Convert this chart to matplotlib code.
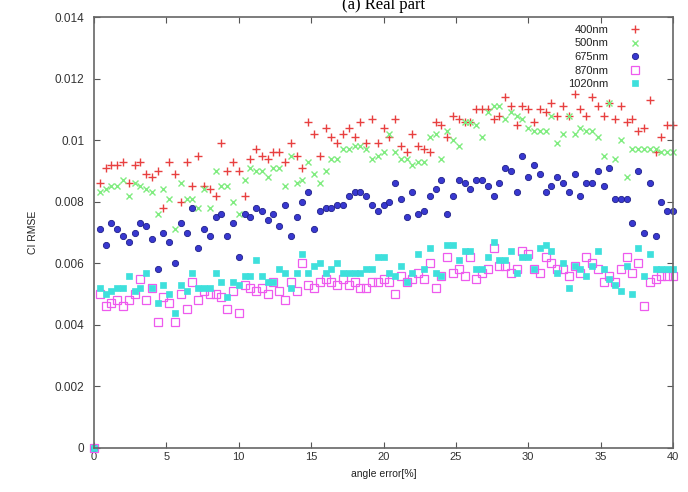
import numpy as np
import matplotlib
matplotlib.use('Agg')
import matplotlib.pyplot as plt

# ----------
# Data: CI RMSE vs angle error, one value every 0.4 % (plus the origin)

step = 0.4
n = 100

rmse_400 = [.0086, .0091, .0092, .0092, .0093, .0086, .0092, .0093, .0089, .0088,
            .0090, .0078, .0093, .0089, .0080, .0093, .0085, .0095, .0085, .0084,
            .0082, .0099, .0090, .0093, .0090, .0082, .0094, .0097, .0095, .0094,
            .0096, .0096, .0093, .0099, .0095, .0091, .0106, .0102, .0095, .0104,
            .0101, .0099, .0102, .0104, .0101, .0106, .0099, .0107, .0099, .0104,
            .0101, .0107, .0098, .0096, .0102, .0098, .0097, .0096, .0106, .0105,
            .0101, .0108, .0107, .0106, .0106, .0110, .0110, .0110, .0107, .0108,
            .0114, .0111, .0105, .0111, .0110, .0106, .0110, .0109, .0112, .0108,
            .0111, .0108, .0115, .0110, .0108, .0114, .0111, .0108, .0112, .0107,
            .0111, .0106, .0107, .0103, .0104, .0113, .0096, .0101, .0105, .0105]

rmse_500 = [.0083, .0084, .0085, .0085, .0087, .0082, .0086, .0085, .0084, .0083,
            .0076, .0084, .0081, .0071, .0086, .0081, .0081, .0078, .0084, .0078,
            .0090, .0085, .0085, .0080, .0076, .0087, .0091, .0090, .0090, .0088,
            .0091, .0091, .0085, .0095, .0086, .0087, .0093, .0089, .0086, .0090,
            .0094, .0094, .0097, .0097, .0098, .0098, .0097, .0094, .0095, .0096,
            .0102, .0096, .0094, .0094, .0092, .0093, .0093, .0101, .0102, .0094,
            .0103, .0100, .0098, .0106, .0106, .0105, .0101, .0109, .0111, .0111,
            .0107, .0109, .0108, .0107, .0104, .0103, .0103, .0103, .0108, .0099,
            .0102, .0108, .0102, .0104, .0103, .0103, .0101, .0095, .0112, .0094,
            .0100, .0088, .0097, .0097, .0097, .0097, .0097, .0096, .0096, .0096]

rmse_675 = [.0071, .0066, .0073, .0071, .0069, .0067, .0070, .0073, .0072, .0068,
            .0058, .0070, .0067, .0060, .0073, .0070, .0078, .0065, .0071, .0069,
            .0075, .0076, .0069, .0073, .0062, .0076, .0075, .0078, .0077, .0074,
            .0076, .0072, .0079, .0069, .0075, .0080, .0083, .0071, .0077, .0078,
            .0078, .0079, .0079, .0082, .0083, .0083, .0082, .0079, .0077, .0079,
            .0080, .0086, .0081, .0075, .0083, .0076, .0077, .0082, .0084, .0087,
            .0076, .0082, .0087, .0086, .0084, .0087, .0087, .0085, .0082, .0086,
            .0091, .0090, .0083, .0095, .0088, .0092, .0089, .0083, .0085, .0088,
            .0086, .0083, .0089, .0082, .0086, .0086, .0090, .0085, .0091, .0081,
            .0081, .0081, .0073, .0090, .0070, .0086, .0069, .0080, .0077, .0077]

rmse_870 = [.0050, .0046, .0047, .0048, .0046, .0048, .0050, .0055, .0048, .0052,
            .0041, .0049, .0047, .0041, .0050, .0045, .0054, .0048, .0051, .0050,
            .0050, .0049, .0045, .0051, .0044, .0053, .0052, .0051, .0052, .0050,
            .0054, .0051, .0048, .0054, .0051, .0060, .0053, .0052, .0054, .0055,
            .0054, .0053, .0055, .0053, .0054, .0052, .0052, .0054, .0054, .0055,
            .0054, .0050, .0056, .0054, .0055, .0057, .0055, .0060, .0052, .0056,
            .0062, .0057, .0058, .0056, .0062, .0055, .0057, .0058, .0065, .0059,
            .0059, .0057, .0058, .0064, .0063, .0058, .0057, .0062, .0060, .0058,
            .0058, .0056, .0059, .0057, .0062, .0060, .0058, .0054, .0056, .0054,
            .0058, .0062, .0057, .0060, .0046, .0054, .0055, .0056, .0056, .0056]

rmse_1020 = [.0052, .0050, .0051, .0052, .0052, .0056, .0051, .0052, .0057, .0052,
             .0047, .0053, .0050, .0044, .0053, .0051, .0057, .0052, .0052, .0052,
             .0057, .0054, .0049, .0054, .0053, .0056, .0056, .0061, .0056, .0054,
             .0054, .0058, .0057, .0052, .0057, .0063, .0057, .0059, .0060, .0057,
             .0058, .0060, .0057, .0057, .0057, .0057, .0058, .0058, .0062, .0062,
             .0057, .0056, .0059, .0054, .0057, .0063, .0058, .0065, .0057, .0056,
             .0066, .0066, .0061, .0064, .0064, .0058, .0058, .0062, .0067, .0061,
             .0061, .0064, .0057, .0062, .0062, .0058, .0065, .0066, .0064, .0057,
             .0060, .0052, .0059, .0058, .0056, .0059, .0064, .0058, .0055, .0053,
             .0051, .0059, .0050, .0065, .0056, .0063, .0058, .0058, .0058, .0058]

labels = ['400nm', '500nm', '675nm', '870nm', '1020nm']
xticks = [0, 5, 10, 15, 20, 25, 30, 35, 40]
yticks = [0, 0.002, 0.004, 0.006, 0.008, 0.01, 0.012, 0.014]
ytick_labels = ['0', '0.002', '0.004', '0.006', '0.008', '0.01', '0.012', '0.014']

# ----------

x = np.concatenate([[0.0], step * np.arange(1, n + 1)])
series = [rmse_400, rmse_500, rmse_675, rmse_870, rmse_1020]

# gnuplot-ish point styles
styles = [
    dict(marker='+', color='#e84040', ms=6, mew=1.0, ls='none'),
    dict(marker='x', color='#80ec80', ms=4.5, mew=1.0, ls='none'),
    dict(marker='o', color='#3838d0', mec='#20208a', ms=4.5, mew=0.6, ls='none'),
    dict(marker='s', color='#ee5aee', mfc='none', ms=5.5, mew=0.9, ls='none'),
    dict(marker='s', color='#3ee0dc', ms=4.5, mew=0.5, ls='none'),
]

matplotlib.rc('font', family='Liberation Sans', size=8.5)
matplotlib.rc('xtick', direction='in')
matplotlib.rc('ytick', direction='in')

fig = plt.figure(figsize=(6.88, 4.92), dpi=100, facecolor='white')
ax = fig.add_axes([94/688, 1 - 448/492, 579/688, 431/492])

for vals, lab, st in zip(series, labels, styles):
    ax.plot(x, np.concatenate([[0.0], vals]), label=lab, clip_on=False, **st)

ax.set_xlim(0, 40)
ax.set_ylim(0, 0.014)
ax.set_xticks(xticks)
ax.set_xticklabels([str(t) for t in xticks])
ax.set_yticks(yticks)
ax.set_yticklabels(ytick_labels)
ax.tick_params(top=True, right=True, length=4, width=0.8, color='#555555',
               labelcolor='#333333')
ax.tick_params(axis='y', pad=7)
ax.tick_params(axis='x', pad=3, labelsize=8)
for sp in ax.spines.values():
    sp.set_color('#666666')
    sp.set_linewidth(1.2)

# Legend: label left, sample right, like gnuplot's key
leg = ax.legend(loc='upper right', bbox_to_anchor=(0.952, 0.992), markerfirst=False,
                frameon=False, handletextpad=1.9, labelspacing=0.32,
                borderaxespad=0.0, handlelength=1.0, fontsize=8)
for t in leg.get_texts():
    t.set_color('#222222')

fig.text(33/688, 1 - 232/492, 'CI RMSE', rotation=90, ha='center', va='center',
         fontsize=7.5, color='#222222')
fig.text(384/688, 1 - 474/492, 'angle error[%]', ha='center', va='center',
         fontsize=7.5, color='#222222')
fig.text(384/688, 1 - 9/492, '(a) Real part', ha='center', va='baseline',
         fontsize=12, family='Liberation Serif')

plt.savefig('out.png', dpi=100, facecolor='white')
